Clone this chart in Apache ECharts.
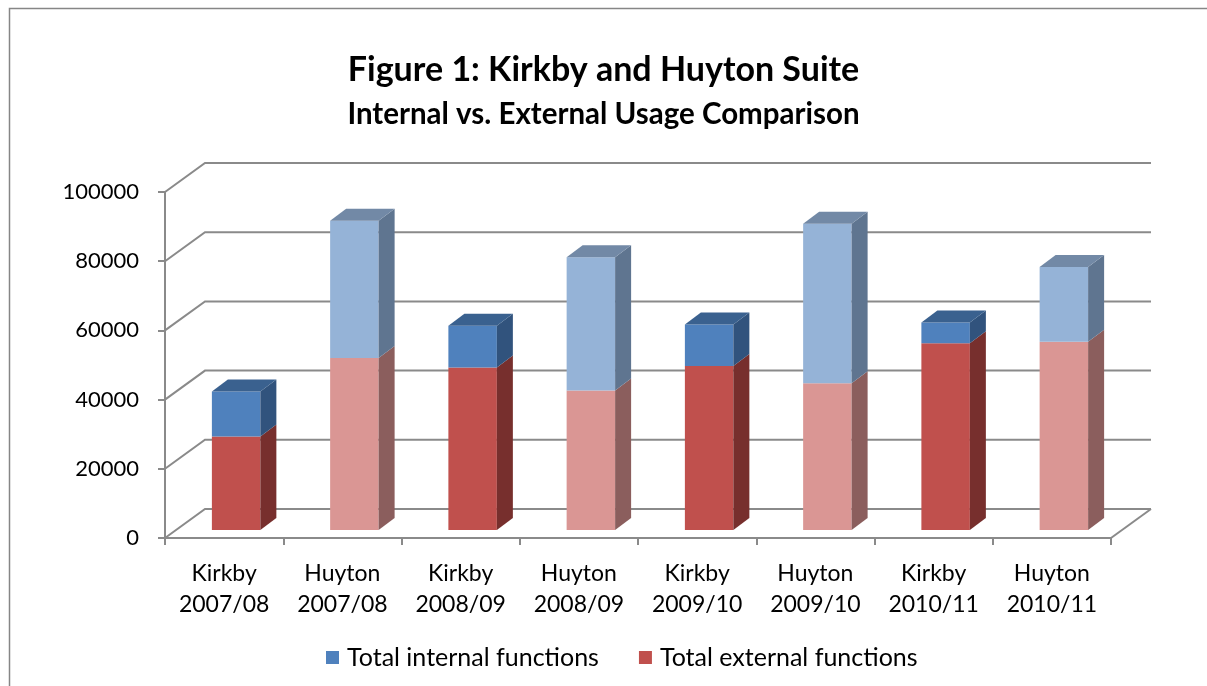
<!DOCTYPE html>
<html>
<head>
<meta charset="utf-8">
<script src="https://cdn.jsdelivr.net/npm/echarts@6/dist/echarts.min.js"></script>
<style>
html,body{margin:0;padding:0;background:#fff;}
#c{width:1207px;height:686px;}
</style>
</head>
<body>
<div id="c"></div>
<script>
// ---- data ----
const categories = ['Kirkby\n2007/08','Huyton\n2007/08','Kirkby\n2008/09','Huyton\n2008/09','Kirkby\n2009/10','Huyton\n2009/10','Kirkby\n2010/11','Huyton\n2010/11'];
const external = [27000, 49700, 47000, 40300, 47400, 42400, 54000, 54400];
const internal = [13000, 39700, 12000, 38500, 12000, 46100, 6000, 21600];
const yTicks = [0, 20000, 40000, 60000, 80000, 100000];
const seriesNames = ['Total internal functions', 'Total external functions'];

// ---- styles ----
const FONT = 'Lato, "Open Sans", sans-serif';
const GRID_COLOR = '#8a8a8a';
const WALL_DX = 40, WALL_DY = -29;      // depth of the back wall
const FRONT_DX = 12, FRONT_DY = -8;     // bar front face offset
const SIDE_DX = 16, SIDE_DY = -12;      // bar depth
const BAR_RATIO = 0.41;
const pal = {
  extFront: ['#C0504D', '#DA9694'],
  extSide:  ['#772F2D', '#8B5E5D'],
  intFront: ['#4F81BD', '#95B3D7'],
  intSide:  ['#31537D', '#5F7590'],
  intTop:   ['#3A618F', '#7289A6']
};

const extData = external.map((v, i) => [i, 0, v]);
const intData = internal.map((v, i) => [i, external[i], external[i] + v]);
const frameData = yTicks.map(v => [0, v]);

function barRenderer(kind) {
  return function (params, api) {
    const i = api.value(0), lo = api.value(1), hi = api.value(2);
    const pLo = api.coord([i, lo]), pHi = api.coord([i, hi]);
    const bw = api.size([1, 0])[0] * BAR_RATIO;
    const x0 = pLo[0] + FRONT_DX - bw / 2, x1 = x0 + bw;
    const yB = pLo[1] + FRONT_DY, yT = pHi[1] + FRONT_DY;
    const v = i % 2;
    const front = kind === 'ext' ? pal.extFront[v] : pal.intFront[v];
    const side = kind === 'ext' ? pal.extSide[v] : pal.intSide[v];
    const children = [
      { type: 'rect', shape: { x: x0, y: yT, width: bw, height: yB - yT }, style: { fill: front } },
      { type: 'polygon', shape: { points: [[x1, yT], [x1 + SIDE_DX, yT + SIDE_DY], [x1 + SIDE_DX, yB + SIDE_DY], [x1, yB]] }, style: { fill: side } }
    ];
    if (kind === 'int') {
      children.push({ type: 'polygon', shape: { points: [[x0, yT], [x0 + SIDE_DX, yT + SIDE_DY], [x1 + SIDE_DX, yT + SIDE_DY], [x1, yT]] }, style: { fill: pal.intTop[v] } });
    }
    return { type: 'group', children };
  };
}

function frameRenderer(params, api) {
  const v = api.value(1);
  const half = api.size([1, 0])[0] / 2;
  const pl = api.coord([0, v]);
  const pr = api.coord([categories.length - 1, v]);
  const left = pl[0] - half, right = pr[0] + half, y = pl[1];
  const children = [
    { type: 'polyline', shape: { points: [[left, y], [left + WALL_DX, y + WALL_DY], [right + WALL_DX, y + WALL_DY]] }, style: { stroke: GRID_COLOR, lineWidth: 2, fill: null } }
  ];
  if (v === 0) {
    children.push({ type: 'line', shape: { x1: right, y1: y, x2: right + WALL_DX, y2: y + WALL_DY }, style: { stroke: GRID_COLOR, lineWidth: 2 } });
  }
  return { type: 'group', children };
}

const chart = echarts.init(document.getElementById('c'), null, { renderer: 'canvas' });
chart.setOption({
  backgroundColor: '#fff',
  animation: false,
  graphic: [{ type: 'rect', shape: { x: 9.5, y: 8.5, width: 1300, height: 800 }, style: { fill: null, stroke: '#868686', lineWidth: 1.5 }, silent: true }],
  title: [
    { text: 'Figure 1: Kirkby and Huyton Suite', left: 'center', top: 48, textStyle: { fontFamily: FONT, fontSize: 34, fontWeight: 'bold', color: '#000' } },
    { text: 'Internal vs. External Usage Comparison', left: 'center', top: 94, textStyle: { fontFamily: FONT, fontSize: 29.5, fontWeight: 'bold', color: '#000' } }
  ],
  legend: {
    data: seriesNames, bottom: 11, left: 321, icon: 'rect', itemWidth: 13, itemHeight: 13, itemGap: 40,
    textStyle: { fontFamily: FONT, fontSize: 25, color: '#000', padding: [0, 0, 0, 3] }
  },
  grid: { left: 165, top: 192, width: 946, height: 346, containLabel: false },
  xAxis: {
    type: 'category', data: categories, boundaryGap: true,
    axisLine: { show: true, lineStyle: { color: GRID_COLOR, width: 2 } },
    axisTick: { show: true, length: 7, lineStyle: { color: GRID_COLOR, width: 2 } },
    axisLabel: { fontFamily: FONT, fontSize: 23, lineHeight: 31, color: '#000', margin: 20, interval: 0 },
    splitLine: { show: false }
  },
  yAxis: {
    type: 'value', min: 0, max: 100000, interval: 20000,
    axisLine: { show: true, lineStyle: { color: GRID_COLOR, width: 2 } },
    axisTick: { show: true, length: 7, lineStyle: { color: GRID_COLOR, width: 2 } },
    axisLabel: { fontFamily: FONT, fontSize: 22, color: '#000', margin: 26, formatter: v => String(v) },
    splitLine: { show: false }
  },
  series: [
    { type: 'custom', name: '_frame', silent: true, renderItem: frameRenderer, data: frameData, encode: { x: 0, y: 1 }, z: 1 },
    { type: 'custom', name: seriesNames[1], renderItem: barRenderer('ext'), data: extData, encode: { x: 0, y: [1, 2] }, itemStyle: { color: '#C0504D' }, z: 3 },
    { type: 'custom', name: seriesNames[0], renderItem: barRenderer('int'), data: intData, encode: { x: 0, y: [1, 2] }, itemStyle: { color: '#4F81BD' }, z: 3 }
  ]
});
</script>
</body>
</html>
